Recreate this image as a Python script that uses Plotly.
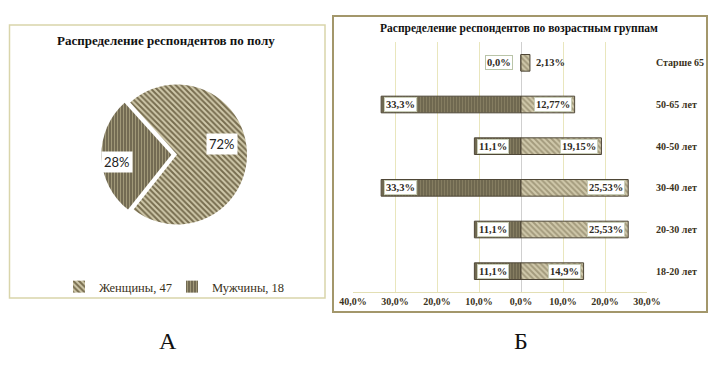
import math
import plotly.graph_objects as go

# ---------------- data ----------------
gender_names = ["Женщины", "Мужчины"]
gender_counts = [47, 18]

age_groups = ["Старше 65", "50-65 лет", "40-50 лет", "30-40 лет", "20-30 лет", "18-20 лет"]
men_pct = [0.0, 33.3, 11.1, 33.3, 11.1, 11.1]
women_pct = [2.13, 12.77, 19.15, 25.53, 25.53, 14.9]

x_ticks = [-40, -30, -20, -10, 0, 10, 20, 30]
x_ticktext = ["40,0%", "30,0%", "20,0%", "10,0%", "0,0%", "10,0%", "20,0%", "30,0%"]

panel_labels = ["А", "Б"]

# ---------------- styles ----------------
W, H = 717, 365
OFF = 8  # page body margin
SERIF = "Liberation Serif"
SANS = "Lato"
TXT = "#3a3220"
light_pat = dict(shape="\\", fgcolor="#776d4f", bgcolor="#d0c9ab", size=4, solidity=0.5)
dark_pat = dict(shape="|", fgcolor="#a09878", bgcolor="#6a624b", size=3, solidity=0.45)

def px2x(p):
    return (p - OFF) / W

def py2y(p):
    return 1 - (p - OFF) / H

fig = go.Figure()

# ---------------- pie ----------------
pull = [0, 0.08]
r_px = 70
cx_px, cy_px = 177, 154.5
half = r_px * (1 + max(pull))
rotation = -42
pie_labels = [f"{n}, {c}" for n, c in zip(gender_names, gender_counts)]

fig.add_trace(go.Pie(
    labels=pie_labels,
    values=gender_counts,
    sort=False,
    direction="clockwise",
    rotation=rotation,
    pull=pull,
    textinfo="none",
    hoverinfo="label+percent",
    marker=dict(colors=["#b0a88a", "#7a7258"],
                pattern=dict(shape=[light_pat["shape"], dark_pat["shape"]],
                             fgcolor=[light_pat["fgcolor"], dark_pat["fgcolor"]],
                             bgcolor=[light_pat["bgcolor"], dark_pat["bgcolor"]],
                             size=[4, 3], solidity=[0.5, 0.45]),
                line=dict(color="white", width=0)),
    domain=dict(x=[px2x(cx_px - half), px2x(cx_px + half)],
                y=[py2y(cy_px + half), py2y(cy_px - half)]),
    showlegend=True,
))

annotations = []
total = sum(gender_counts)
start = rotation
label_yshift = [9, -6]
for i, c in enumerate(gender_counts):
    span = 360 * c / total
    mid = math.radians(start + span / 2)
    f = 0.65 if pull[i] == 0 else 0.78 + pull[i]
    tx = cx_px + f * r_px * math.sin(mid)
    ty = cy_px - f * r_px * math.cos(mid)
    annotations.append(dict(x=px2x(tx), y=py2y(ty), xref="paper", yref="paper",
                            xanchor="center", yanchor="middle", yshift=label_yshift[i],
                            text=f"{round(100 * c / total)}%", showarrow=False,
                            bgcolor="white", borderpad=2,
                            font=dict(family=SANS, size=13, color="#222")))
    start += span

# ---------------- bars ----------------
fig.add_trace(go.Bar(
    y=age_groups, x=[-v for v in men_pct], orientation="h", name="Мужчины",
    marker=dict(color="#7a7258", pattern=dark_pat, line=dict(color="#4e4636", width=1)),
    showlegend=False, xaxis="x", yaxis="y", hoverinfo="y+text",
    hovertext=[f"{v}%" for v in men_pct],
))
fig.add_trace(go.Bar(
    y=age_groups, x=women_pct, orientation="h", name="Женщины",
    marker=dict(color="#b0a88a", pattern=light_pat, line=dict(color="#4e4636", width=1)),
    showlegend=False, xaxis="x", yaxis="y", hoverinfo="y+text",
    hovertext=[f"{v}%" for v in women_pct],
))

px_per_unit = (647 - 353) / 70.0
lab_font = dict(family=SERIF, size=10.5, color="#2e2a1e")
for g, v in zip(age_groups, men_pct):
    txt = f"{v:.1f}".replace(".", ",") + "%"
    if v * px_per_unit > 34:
        annotations.append(dict(x=-v, y=g, xref="x", yref="y", text=f"<b>{txt}</b>", showarrow=False,
                                xanchor="left", yanchor="middle", xshift=3, bgcolor="white", borderpad=1,
                                bordercolor="#c9ceb8", borderwidth=1, font=lab_font))
    else:
        annotations.append(dict(x=-v, y=g, xref="x", yref="y", text=f"<b>{txt}</b>", showarrow=False,
                                xanchor="right", yanchor="middle", xshift=-8, bgcolor="white", borderpad=1,
                                bordercolor="#b9c4a8", borderwidth=1, font=lab_font))
for g, v in zip(age_groups, women_pct):
    txt = str(v).replace(".", ",") + "%"
    if v * px_per_unit > 34:
        annotations.append(dict(x=v, y=g, xref="x", yref="y", text=f"<b>{txt}</b>", showarrow=False,
                                xanchor="right", yanchor="middle", xshift=-3, bgcolor="white", borderpad=1,
                                bordercolor="#c9ceb8", borderwidth=1, font=lab_font))
    else:
        annotations.append(dict(x=v, y=g, xref="x", yref="y", text=f"<b>{txt}</b>", showarrow=False,
                                xanchor="left", yanchor="middle", xshift=4, font=lab_font))

# titles and panel letters
annotations.append(dict(x=px2x(166), y=py2y(41), xref="paper", yref="paper", showarrow=False,
                        xanchor="center", yanchor="middle",
                        text="<b>Распределение респондентов по полу</b>",
                        font=dict(family=SERIF, size=13, color="#111")))
annotations.append(dict(x=px2x(519), y=py2y(28), xref="paper", yref="paper", showarrow=False,
                        xanchor="center", yanchor="middle",
                        text="<b>Распределение респондентов по возрастным группам</b>",
                        font=dict(family=SERIF, size=11.5, color="#111")))
for lab, xp in zip(panel_labels, [168, 521]):
    annotations.append(dict(x=px2x(xp), y=py2y(341), xref="paper", yref="paper", showarrow=False,
                            xanchor="center", yanchor="middle",
                            text=lab, font=dict(family=SERIF, size=24, color="#111")))

shapes = [
    dict(type="rect", xref="paper", yref="paper", x0=px2x(9.5), x1=px2x(325), y0=py2y(298), y1=py2y(25),
         line=dict(color="#d9d5ab", width=1.5)),
    dict(type="rect", xref="paper", yref="paper", x0=px2x(333), x1=px2x(707), y0=py2y(312), y1=py2y(16),
         line=dict(color="#a3976b", width=2)),
]

fig.update_layout(
    width=W, height=H,
    margin=dict(l=0, r=0, t=0, b=0),
    paper_bgcolor="white", plot_bgcolor="white",
    barmode="relative", bargap=0.6,
    xaxis=dict(domain=[px2x(353), px2x(647)], anchor="y", range=[-40, 30], automargin=False,
               tickvals=x_ticks, ticktext=x_ticktext,
               showgrid=True, gridcolor="#e9e6bd", gridwidth=1,
               zeroline=True, zerolinecolor="#cfcfcf", zerolinewidth=1,
               showline=True, linecolor="#e3dfb4", linewidth=1,
               tickfont=dict(family=SERIF, size=10, color=TXT, weight="bold"),
               ticks="", fixedrange=True),
    yaxis=dict(domain=[py2y(292), py2y(42)], anchor="x", side="right", automargin=False,
               categoryorder="array", categoryarray=age_groups, autorange="reversed",
               showgrid=False, zeroline=False, showline=False,
               ticks="", ticklabelstandoff=8,
               tickfont=dict(family=SERIF, size=10, color=TXT, weight="bold")),
    legend=dict(orientation="h", x=px2x(172), y=py2y(287), xanchor="center", yanchor="middle",
                font=dict(family=SERIF, size=12.5, color=TXT),
                itemwidth=30, entrywidth=68, tracegroupgap=0, bgcolor="rgba(0,0,0,0)"),
    annotations=annotations,
    shapes=shapes,
)

fig.write_html("out.html")
